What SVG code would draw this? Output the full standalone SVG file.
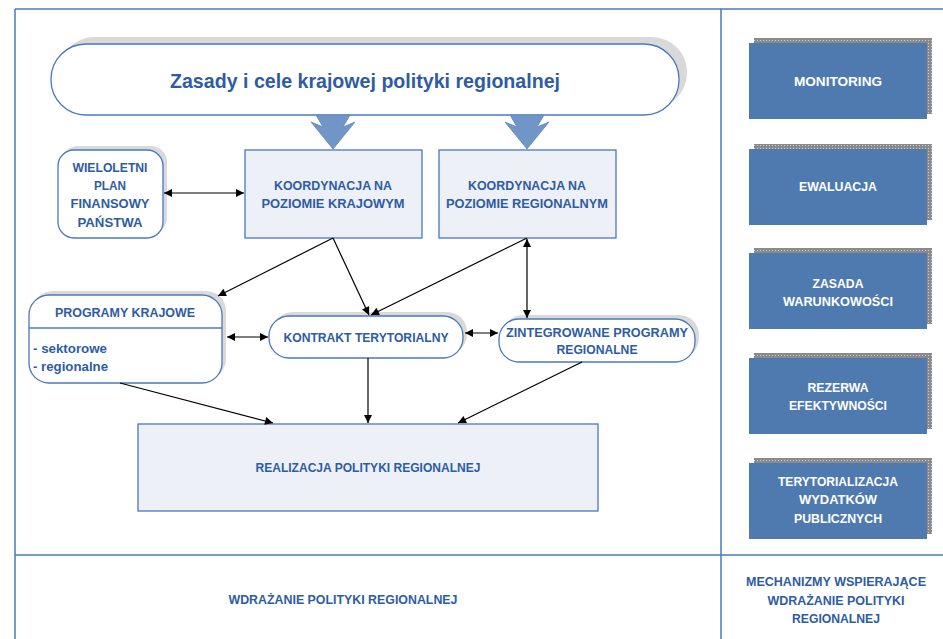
<svg xmlns="http://www.w3.org/2000/svg" width="943" height="639" viewBox="0 0 943 639">
<style>
.frame{stroke:#4a78bf;stroke-width:1.5;fill:none}
.rbox{fill:#ffffff;stroke:#4a78bf;stroke-width:1.3}
.lbox{fill:#edf0f6;stroke:#4a78bf;stroke-width:1.3}
.shd{fill:#d9d9d9}
.dbox{fill:#4f7ab0}
.chk{fill:url(#checker)}
.t{font-family:"Liberation Sans",Arial,sans-serif;font-weight:bold;font-size:13.5px;fill:#2e5ca4;text-anchor:middle}
.tl{text-anchor:start}
.w{fill:#ffffff}
.title{font-size:21px}
.bot{font-size:12px}
.con{stroke:#000;stroke-width:1.2;fill:none}
.big{fill:#7096c8;stroke:#5f86bd;stroke-width:0.8;stroke-linejoin:miter}
</style>
<defs>
<pattern id="checker" width="3" height="3" patternUnits="userSpaceOnUse">
<rect width="3" height="3" fill="#8a8a8a"/>
<rect x="1" y="1" width="1" height="1" fill="#cfcfcf"/>
</pattern>
<marker id="ah" viewBox="0 0 10 10" refX="10" refY="5" markerWidth="11" markerHeight="8" markerUnits="userSpaceOnUse" orient="auto-start-reverse">
<path d="M0,0 L10,5 L0,10 z" fill="#000"/>
</marker>
</defs>
<rect width="943" height="639" fill="#ffffff"/>
<g id="frame">
<line class="frame" x1="15" y1="9" x2="943" y2="9"/>
<line class="frame" x1="15" y1="9" x2="15" y2="639"/>
<line class="frame" x1="721" y1="9" x2="721" y2="639"/>
<line class="frame" x1="15" y1="555" x2="943" y2="555"/>
</g>
<g id="title">
<rect class="shd" x="59" y="37" width="628" height="71" rx="35"/>
<rect class="rbox" x="51" y="44" width="628" height="71" rx="35"/>
<text class="t title" x="365" y="87.5" textLength="390" lengthAdjust="spacingAndGlyphs">Zasady i cele krajowej polityki regionalnej</text>
</g>
<g id="bigarrows">
<polygon class="big" points="316,115 350,115 343,127 355,122 333,149 311,122 323,127"/>
<polygon class="big" points="510,115 544,115 537,127 549,122 527,149 505,122 517,127"/>
</g>
<g id="wieloletni">
<rect class="shd" x="62" y="146" width="105" height="88" rx="16"/>
<rect class="rbox" x="58" y="150" width="105" height="88" rx="16"/>
<text class="t" x="110" y="172" textLength="75" lengthAdjust="spacingAndGlyphs">WIELOLETNI</text>
<text class="t" x="110" y="190" textLength="32" lengthAdjust="spacingAndGlyphs">PLAN</text>
<text class="t" x="110" y="208" textLength="79" lengthAdjust="spacingAndGlyphs">FINANSOWY</text>
<text class="t" x="110" y="227" textLength="65" lengthAdjust="spacingAndGlyphs">PAŃSTWA</text>
</g>
<g id="koord-kraj">
<rect class="lbox" x="245" y="150" width="177" height="88"/>
<text class="t" x="333" y="190" textLength="118" lengthAdjust="spacingAndGlyphs">KOORDYNACJA NA</text>
<text class="t" x="333" y="208" textLength="143" lengthAdjust="spacingAndGlyphs">POZIOMIE KRAJOWYM</text>
</g>
<g id="koord-reg">
<rect class="lbox" x="439" y="150" width="177" height="88"/>
<text class="t" x="527" y="190" textLength="118" lengthAdjust="spacingAndGlyphs">KOORDYNACJA NA</text>
<text class="t" x="527" y="208" textLength="162" lengthAdjust="spacingAndGlyphs">POZIOMIE REGIONALNYM</text>
</g>
<g id="programy-krajowe">
<rect class="shd" x="33" y="291" width="193" height="88" rx="20"/>
<rect class="rbox" x="29" y="295" width="193" height="88" rx="20"/>
<line x1="29" y1="328" x2="222" y2="328" stroke="#4a78bf" stroke-width="1.3"/>
<text class="t" x="125" y="317" textLength="140" lengthAdjust="spacingAndGlyphs">PROGRAMY KRAJOWE</text>
<text class="t tl" x="33" y="353" textLength="74" lengthAdjust="spacingAndGlyphs">- sektorowe</text>
<text class="t tl" x="33" y="371" textLength="75" lengthAdjust="spacingAndGlyphs">- regionalne</text>
</g>
<g id="kontrakt">
<rect class="shd" x="273" y="312" width="194" height="42" rx="20"/>
<rect class="rbox" x="269" y="316" width="194" height="42" rx="20"/>
<text class="t" x="366" y="342" textLength="165" lengthAdjust="spacingAndGlyphs">KONTRAKT TERYTORIALNY</text>
</g>
<g id="zintegrowane">
<rect class="shd" x="503" y="315" width="196" height="43" rx="20"/>
<rect class="rbox" x="499" y="319" width="196" height="43" rx="20"/>
<text class="t" x="597" y="337" textLength="182" lengthAdjust="spacingAndGlyphs">ZINTEGROWANE PROGRAMY</text>
<text class="t" x="597" y="354" textLength="81" lengthAdjust="spacingAndGlyphs">REGIONALNE</text>
</g>
<g id="realizacja">
<rect class="lbox" x="138" y="424" width="460" height="87"/>
<text class="t" x="368" y="472" textLength="225" lengthAdjust="spacingAndGlyphs">REALIZACJA POLITYKI REGIONALNEJ</text>
</g>
<g id="connectors">
<line class="con" x1="164" y1="193" x2="244" y2="193" marker-start="url(#ah)" marker-end="url(#ah)"/>
<line class="con" x1="333" y1="238" x2="218" y2="296" marker-end="url(#ah)"/>
<line class="con" x1="333" y1="238" x2="369" y2="315" marker-end="url(#ah)"/>
<line class="con" x1="527" y1="238" x2="371" y2="315" marker-end="url(#ah)"/>
<line class="con" x1="527" y1="239" x2="527" y2="318" marker-start="url(#ah)" marker-end="url(#ah)"/>
<line class="con" x1="227" y1="337" x2="268" y2="337" marker-start="url(#ah)" marker-end="url(#ah)"/>
<line class="con" x1="465" y1="333" x2="498" y2="333" marker-start="url(#ah)" marker-end="url(#ah)"/>
<line class="con" x1="368" y1="358" x2="368" y2="423" marker-end="url(#ah)"/>
<line class="con" x1="120" y1="383" x2="273" y2="423" marker-end="url(#ah)"/>
<line class="con" x1="582" y1="362" x2="458" y2="423" marker-end="url(#ah)"/>
</g>
<g id="monitoring">
<rect class="chk" x="754" y="38" width="178" height="76"/>
<rect class="dbox" x="749" y="43" width="178" height="76"/>
<text class="t w" x="838" y="86" textLength="88" lengthAdjust="spacingAndGlyphs">MONITORING</text>
</g>
<g id="ewaluacja">
<rect class="chk" x="754" y="144" width="178" height="76"/>
<rect class="dbox" x="749" y="149" width="178" height="76"/>
<text class="t w" x="838" y="191" textLength="78" lengthAdjust="spacingAndGlyphs">EWALUACJA</text>
</g>
<g id="zasada">
<rect class="chk" x="754" y="248" width="178" height="76"/>
<rect class="dbox" x="749" y="253" width="178" height="76"/>
<text class="t w" x="838" y="288" textLength="51" lengthAdjust="spacingAndGlyphs">ZASADA</text>
<text class="t w" x="838" y="306" textLength="110" lengthAdjust="spacingAndGlyphs">WARUNKOWOŚCI</text>
</g>
<g id="rezerwa">
<rect class="chk" x="754" y="353" width="178" height="76"/>
<rect class="dbox" x="749" y="358" width="178" height="76"/>
<text class="t w" x="838" y="392" textLength="61" lengthAdjust="spacingAndGlyphs">REZERWA</text>
<text class="t w" x="838" y="410" textLength="98" lengthAdjust="spacingAndGlyphs">EFEKTYWNOŚCI</text>
</g>
<g id="terytorializacja">
<rect class="chk" x="754" y="458" width="178" height="76"/>
<rect class="dbox" x="749" y="463" width="178" height="76"/>
<text class="t w" x="838" y="486" textLength="120" lengthAdjust="spacingAndGlyphs">TERYTORIALIZACJA</text>
<text class="t w" x="838" y="504" textLength="78" lengthAdjust="spacingAndGlyphs">WYDATKÓW</text>
<text class="t w" x="838" y="523" textLength="88" lengthAdjust="spacingAndGlyphs">PUBLICZNYCH</text>
</g>
<g id="labels">
<text class="t bot" x="343" y="604" textLength="229" lengthAdjust="spacingAndGlyphs">WDRAŻANIE POLITYKI REGIONALNEJ</text>
<text class="t bot" x="836" y="586" textLength="180" lengthAdjust="spacingAndGlyphs">MECHANIZMY WSPIERAJĄCE</text>
<text class="t bot" x="836" y="605" textLength="137" lengthAdjust="spacingAndGlyphs">WDRAŻANIE POLITYKI</text>
<text class="t bot" x="836" y="623" textLength="88" lengthAdjust="spacingAndGlyphs">REGIONALNEJ</text>
</g>
</svg>
